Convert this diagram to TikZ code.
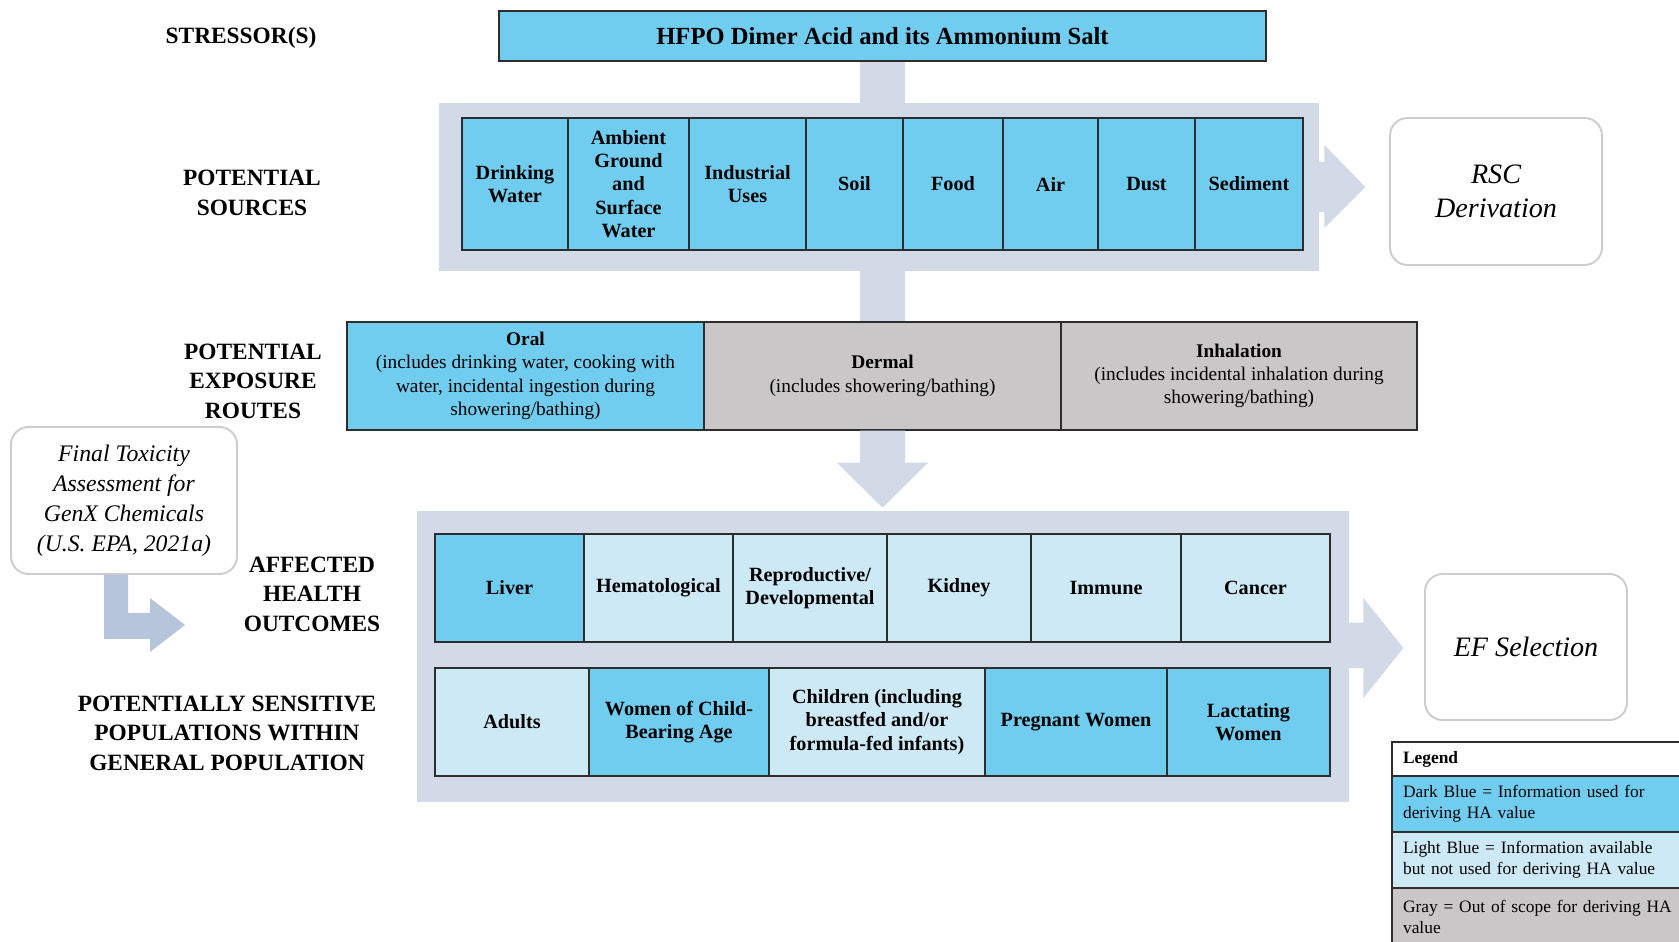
\documentclass[tikz,border=0pt]{standalone}
\usepackage{fontspec}
\setmainfont{Liberation Serif}
\usetikzlibrary{calc}

\definecolor{darkblue}{RGB}{113,205,240}
\definecolor{lightblue}{RGB}{205,233,246}
\definecolor{outgray}{RGB}{201,199,199}
\definecolor{panelblue}{RGB}{210,217,231}
\definecolor{bentblue}{RGB}{182,196,220}
\definecolor{boxrim}{RGB}{205,205,205}
\definecolor{cellrim}{RGB}{45,45,45}

\tikzset{
	cell/.style={draw=cellrim, line width=0.85pt, align=center, inner sep=0pt, font=\fontsize{11.5}{13.3}\selectfont\bfseries},
	routecell/.style={cell, font=\fontsize{11}{13.3}\selectfont},
	rowlabel/.style={align=center, inner sep=0pt, font=\fontsize{13.3}{16.8}\selectfont\bfseries},
	roundbox/.style={draw=boxrim, line width=1.1pt, rounded corners=10pt, fill=white, align=center, inner sep=0pt, font=\fontsize{16}{19.4}\selectfont\itshape},
	panel/.style={fill=panelblue, inner sep=0pt},
	band/.style={fill=panelblue},
	bentband/.style={fill=bentblue},
	legendrow/.style={draw=cellrim, line width=0.85pt, align=left, inner sep=0pt, text width=7.72cm, font=\fontsize{9.9}{12}\selectfont}
}

% box from (x1,y1) to (x2,y2) in pixels, y downwards
\def\cellbox[#1](#2,#3)(#4,#5)#6#7{\node[#1, minimum width={(#4-#2)*0.02cm}, minimum height={(#5-#3)*0.02cm}] (#6) at ({(#2+#4)/2},{(#3+#5)/2}) {#7};}

\begin{document}
\begin{tikzpicture}[x=0.02cm, y=-0.02cm]
			%%%%% START %%%%%
			\useasboundingbox (0,0) rectangle (1679,942);
			\clip (0,0) rectangle (1679,942);
			
			% row titles
			\node[rowlabel] (lstressor) at (241,38) {STRESSOR(S)};
			\node[rowlabel] (lsources) at (252,193) {POTENTIAL\\SOURCES};
			\node[rowlabel] (lroutes) at (253,381) {POTENTIAL\\EXPOSURE\\ROUTES};
			\node[rowlabel] (loutcomes) at (312,594) {AFFECTED\\HEALTH\\OUTCOMES};
			\node[rowlabel] (lpops) at (227,733) {POTENTIALLY SENSITIVE\\POPULATIONS WITHIN\\GENERAL POPULATION};
			
			% panels
			\cellbox[panel](439,103)(1319,271){srcpanel}{}
			\cellbox[panel](417,511)(1349,802){outpanel}{}
			
			\cellbox[cell,fill=darkblue,font=\fontsize{14}{16}\selectfont\bfseries](499,11)(1266,61){stressor}{HFPO Dimer Acid and its Ammonium Salt}
			
			% bands
			\fill[band] ($(stressor.south)+(-22.5,0)$) rectangle ($(stressor.south |- srcpanel.north)+(22.5,0)$);
			
			\cellbox[cell,fill=darkblue](462,118)(568,250){drinking}{Drinking\\Water}
			\cellbox[cell,fill=darkblue](568,118)(689,250){ambient}{Ambient\\Ground\\and\\Surface\\Water}
			\cellbox[cell,fill=darkblue](689,118)(806,250){industrial}{Industrial\\Uses}
			\cellbox[cell,fill=darkblue](806,118)(903,250){soil}{Soil}
			\cellbox[cell,fill=darkblue](903,118)(1003,250){food}{Food}
			\cellbox[cell,fill=darkblue](1003,118)(1098,250){air}{Air}
			\cellbox[cell,fill=darkblue](1098,118)(1195,250){dust}{Dust}
			\cellbox[cell,fill=darkblue](1195,118)(1303,250){sediment}{Sediment}
			
			\cellbox[roundbox](1390,118)(1602,265){rsc}{RSC\\Derivation}
			\fill[band] ($(srcpanel.east)+(-1,-25)$) -- ++(6,0) -- ++(0,-17) -- ++(41,42) -- ++(-41,41) -- ++(0,-16) -- ++(-6,0) -- cycle;
			
			\cellbox[routecell,fill=darkblue](347,322)(704,430){oral}{\textbf{Oral}\\(includes drinking  water, cooking with\\water, incidental ingestion during\\showering/bathing)}
			\cellbox[routecell,fill=outgray](704,322)(1061,430){dermal}{\textbf{Dermal}\\(includes showering/bathing)}
			\cellbox[routecell,fill=outgray](1061,322)(1417,430){inhalation}{\textbf{Inhalation}\\(includes incidental inhalation during\\showering/bathing)}
			
			\fill[band] ($(dermal.north)+(-22.5,0)$) rectangle ($(dermal.north |- srcpanel.south)+(22.5,0)$);
			\fill[band] ($(dermal.south)+(-22.5,0)$) -- ++(0,32) -- ++(-23,0) -- ++(45.5,45) -- ++(45.5,-45) -- ++(-23,0) -- ++(0,-32) -- cycle;
			
			\cellbox[roundbox,font=\fontsize{13.5}{17}\selectfont\itshape](11,427)(237,574){toxbox}{Final Toxicity\\Assessment for\\GenX Chemicals\\(U.S. EPA, 2021a)}
			\fill[bentband] ($(toxbox.south)+(-20,0)$) -- ++(24,0) -- ++(0,38) -- ++(22,0) -- ++(0,-15) -- ++(35,27) -- ++(-35,27) -- ++(0,-13) -- ++(-46,0) -- cycle;
			
			\cellbox[cell,fill=darkblue](435,534)(584,642){liver}{Liver}
			\cellbox[cell,fill=lightblue](584,534)(733,642){hemato}{Hematological}
			\cellbox[cell,fill=lightblue](733,534)(887,642){repro}{Reproductive/\\Developmental}
			\cellbox[cell,fill=lightblue](887,534)(1031,642){kidney}{Kidney}
			\cellbox[cell,fill=lightblue](1031,534)(1181,642){immune}{Immune}
			\cellbox[cell,fill=lightblue](1181,534)(1330,642){cancer}{Cancer}
			
			\cellbox[cell,fill=lightblue](435,668)(589,776){adults}{Adults}
			\cellbox[cell,fill=darkblue](589,668)(769,776){women}{Women of Child-\\Bearing Age}
			\cellbox[cell,fill=lightblue](769,668)(985,776){children}{Children (including\\breastfed and/or\\formula-fed infants)}
			\cellbox[cell,fill=darkblue](985,668)(1167,776){pregnant}{Pregnant Women}
			\cellbox[cell,fill=darkblue](1167,668)(1330,776){lactating}{Lactating\\Women}
			
			\cellbox[roundbox](1425,574)(1627,720){efsel}{EF Selection}
			\fill[band] ($(outpanel.east)+(-1,-34)$) -- ++(15,0) -- ++(0,-24.5) -- ++(40,50) -- ++(-40,50) -- ++(0,-30) -- ++(-15,0) -- cycle;
			
			% legend
			\cellbox[legendrow,fill=white](1392,742)(1800,776){leghead}{\textbf{Legend}}
			\cellbox[legendrow,fill=darkblue](1392,776)(1800,832){legdark}{Dark Blue = Information used for\\deriving HA value}
			\cellbox[legendrow,fill=lightblue](1392,832)(1800,888){leglight}{Light Blue = Information available\\but not used for deriving HA value}
			\cellbox[legendrow,fill=outgray](1392,888)(1800,946){leggray}{Gray = Out of scope for deriving HA\\value}
			
			%%%%% END %%%%%
\end{tikzpicture}
\end{document}
